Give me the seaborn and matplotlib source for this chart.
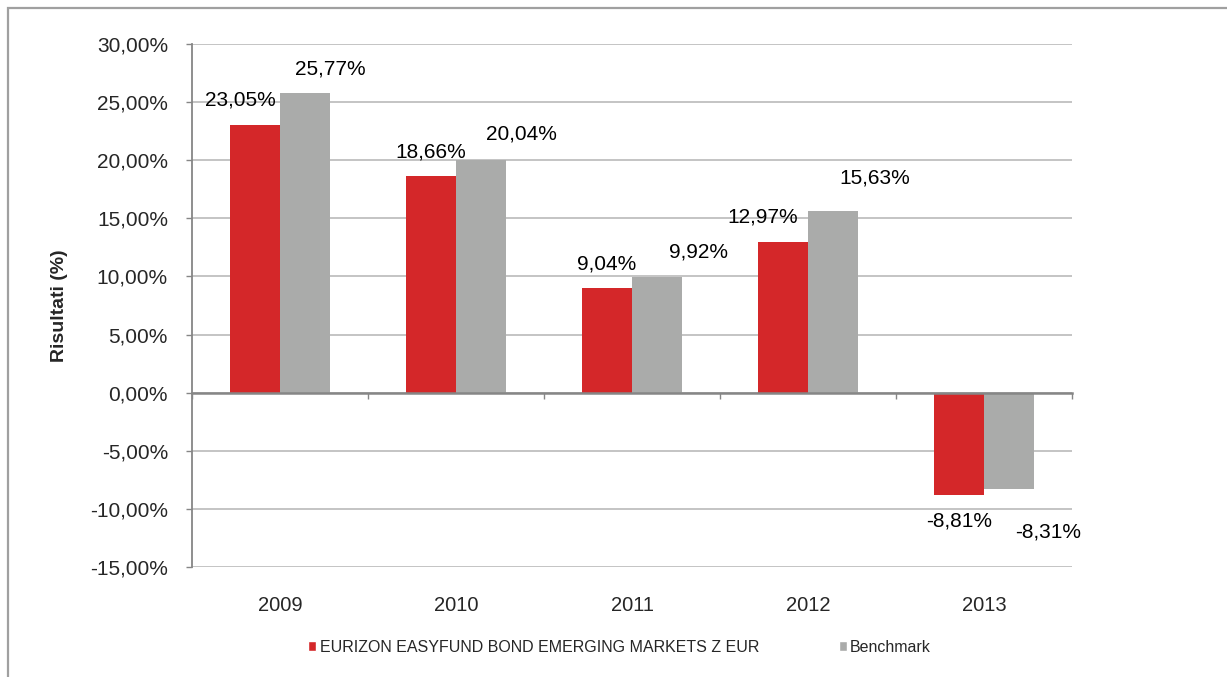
import pandas as pd
import matplotlib
matplotlib.use("Agg")
import matplotlib.pyplot as plt
from matplotlib.patches import Patch, Rectangle
from matplotlib.ticker import FuncFormatter, FixedLocator
import seaborn as sns

# data
years = ['2009', '2010', '2011', '2012', '2013']
fund_name = 'EURIZON EASYFUND BOND EMERGING MARKETS Z EUR'
bench_name = 'Benchmark'
fund = [23.05, 18.66, 9.04, 12.97, -8.81]
bench = [25.77, 20.04, 9.92, 15.63, -8.31]

# label nudges in pixels (dx, dy from bar end), like the Excel layout
fund_nudge = [(-15, 25), (0, 24), (0, 24), (-20, 25), (0, -26)]
bench_nudge = [(25, 24), (40, 26), (41, 25), (42, 33), (39, -43)]

red = '#D42729'
grey = '#AAABAA'
axis_grey = '#868686'

sns.set_style('white')
plt.rcParams['font.family'] = ['Liberation Sans', 'DejaVu Sans']

df = pd.DataFrame({
    'Anno': years * 2,
    'Risultato': fund + bench,
    'Serie': [fund_name] * len(years) + [bench_name] * len(years),
})

fig = plt.figure(figsize=(12.27, 6.77), dpi=100)
ax = fig.add_axes([192 / 1227, 1 - 567 / 677, 880 / 1227, 523 / 677])

sns.barplot(data=df, x='Anno', y='Risultato', hue='Serie',
            palette=[red, grey], width=0.57, saturation=1,
            linewidth=0, legend=False, ax=ax)

ax.set_xlim(-0.5, 4.5)
ax.set_ylim(-15, 30)
ax.set_yticks(range(-15, 31, 5))
ax.yaxis.set_major_formatter(
    FuncFormatter(lambda v, p: f"{v:.2f}%".replace('.', ',')))
ax.tick_params(axis='y', length=4.3, width=1, color=axis_grey,
               labelsize=15, pad=13, direction='out', left=True)
ax.yaxis.grid(True, color='#BFBFBF', lw=1.3)
ax.set_axisbelow(True)

for s in ['top', 'right']:
    ax.spines[s].set_visible(False)
ax.spines['left'].set_color(axis_grey)
ax.spines['left'].set_linewidth(1.3)
ax.spines['bottom'].set_position(('data', 0))
ax.spines['bottom'].set_color(axis_grey)
ax.spines['bottom'].set_linewidth(1.8)

# ticks between categories on the zero line, year labels at the bottom
ax.xaxis.set_minor_locator(FixedLocator([i - 0.5 for i in range(len(years) + 1)]))
ax.tick_params(axis='x', which='minor', length=4.5, width=1,
               color=axis_grey, direction='out', bottom=True)
ax.tick_params(axis='x', which='major', length=0, labelbottom=False)
ax.set_xlabel('')

sec = ax.secondary_xaxis('bottom')
sec.set_xticks(range(len(years)), years)
sec.tick_params(length=0, pad=21, labelsize=14.5)
sec.spines['bottom'].set_visible(False)

ax.set_ylabel('Risultati (%)', fontsize=14, fontweight='bold')
ax.yaxis.set_label_coords(-0.141, 0.5)

# value labels
for cont, nudge in zip(ax.containers, [fund_nudge, bench_nudge]):
    for bar, (dx, dy) in zip(cont, nudge):
        h = bar.get_height()
        x = bar.get_x() + bar.get_width() / 2
        txt = f"{h:.2f}%".replace('.', ',')
        ax.annotate(txt, xy=(x, h), xytext=(dx * 0.72, dy * 0.72),
                    textcoords='offset points', ha='center', va='center',
                    fontsize=15, color='black')

handles = [Patch(facecolor=red, label=fund_name),
           Patch(facecolor=grey, label=bench_name)]
fig.legend(handles=handles, loc='center', bbox_to_anchor=(0.505, 1 - 647 / 677),
           ncol=2, frameon=False, fontsize=11.5, handlelength=0.5,
           handleheight=0.6, handletextpad=0.2, columnspacing=5.0)

# outer chart frame
fig.add_artist(Rectangle((8 / 1227, -0.05), 1.5, 1 - 8 / 677 + 0.05,
                         transform=fig.transFigure, fill=False,
                         edgecolor='#A0A0A0', lw=1.6))

fig.savefig('out.png', dpi=100)
